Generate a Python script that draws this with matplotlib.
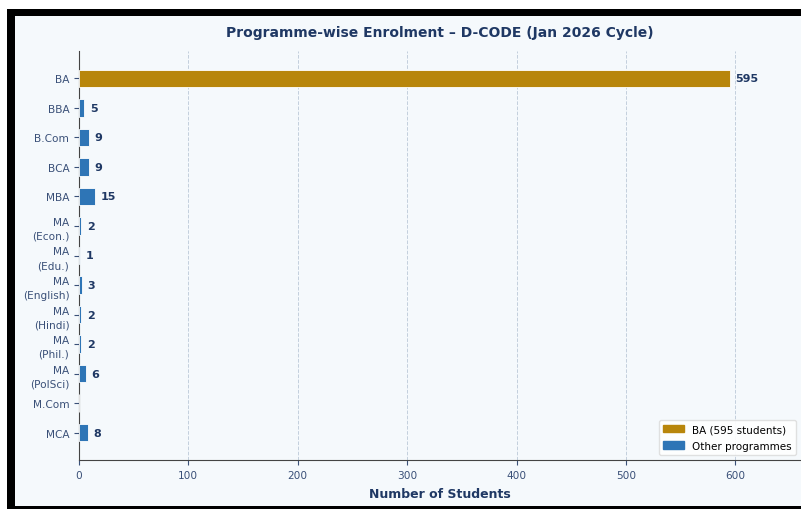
import matplotlib
matplotlib.use("Agg")
import matplotlib.pyplot as plt
from matplotlib.patches import Rectangle, Patch

programmes = ["BA", "BBA", "B.Com", "BCA", "MBA", "MA\n(Econ.)", "MA\n(Edu.)",
              "MA\n(English)", "MA\n(Hindi)", "MA\n(Phil.)", "MA\n(PolSci)",
              "M.Com", "MCA"]
students = [595, 5, 9, 9, 15, 2, 1, 3, 2, 2, 6, 0, 8]

gold = "#B8860B"
blue = "#2E75B6"
navy = "#1F3864"
tick_col = "#3A5078"
bg = "#F5F9FC"

fig = plt.figure(figsize=(8.01, 5.10), dpi=100, facecolor="white")

# screenshot frame: black border, light inner panel
fig.patches.append(Rectangle((7 / 801, 0), 1, 500 / 510, transform=fig.transFigure,
                             facecolor="black", edgecolor="none", zorder=-2))
fig.patches.append(Rectangle((15 / 801, 3 / 510), 1, 490 / 510, transform=fig.transFigure,
                             facecolor=bg, edgecolor="none", zorder=-1))

ax = fig.add_axes([79 / 801, 49 / 510, 722 / 801, 409 / 510])
ax.set_facecolor(bg)

colors = [gold if p == "BA" else blue for p in programmes]
bars = ax.barh(programmes, students, height=0.6, color=colors,
               edgecolor="white", linewidth=0.6, zorder=3)
ax.invert_yaxis()
ax.set_xlim(0, 660)

for b, v in zip(bars, students):
    if v > 0:
        ax.text(v + 5, b.get_y() + b.get_height() / 2, str(v), va="center", ha="left",
                fontsize=8, fontweight="bold", color=navy, zorder=4)

ax.set_xticks([0, 100, 200, 300, 400, 500, 600])
ax.tick_params(axis="both", colors=tick_col, labelsize=7.6, length=3.5)
for lab in ax.get_yticklabels():
    lab.set_linespacing(1.45)
ax.xaxis.grid(True, linestyle="--", color="#C3CFDD", linewidth=0.7, zorder=0)
ax.set_axisbelow(True)
for s in ["top", "right"]:
    ax.spines[s].set_visible(False)
for s in ["left", "bottom"]:
    ax.spines[s].set_color("#444444")

ax.set_xlabel("Number of Students", fontsize=9, fontweight="bold", color=navy, labelpad=5)
ax.set_title("Programme-wise Enrolment \u2013 D-CODE (Jan 2026 Cycle)", fontsize=10,
             fontweight="bold", color=navy, pad=11)

handles = [Patch(color=gold, label="BA (595 students)"),
           Patch(color=blue, label="Other programmes")]
ax.legend(handles=handles, loc="lower right", fontsize=7.5, framealpha=0.9,
          edgecolor="#DDDDDD", labelspacing=0.6)

fig.savefig("out.png", dpi=100, facecolor="white")
